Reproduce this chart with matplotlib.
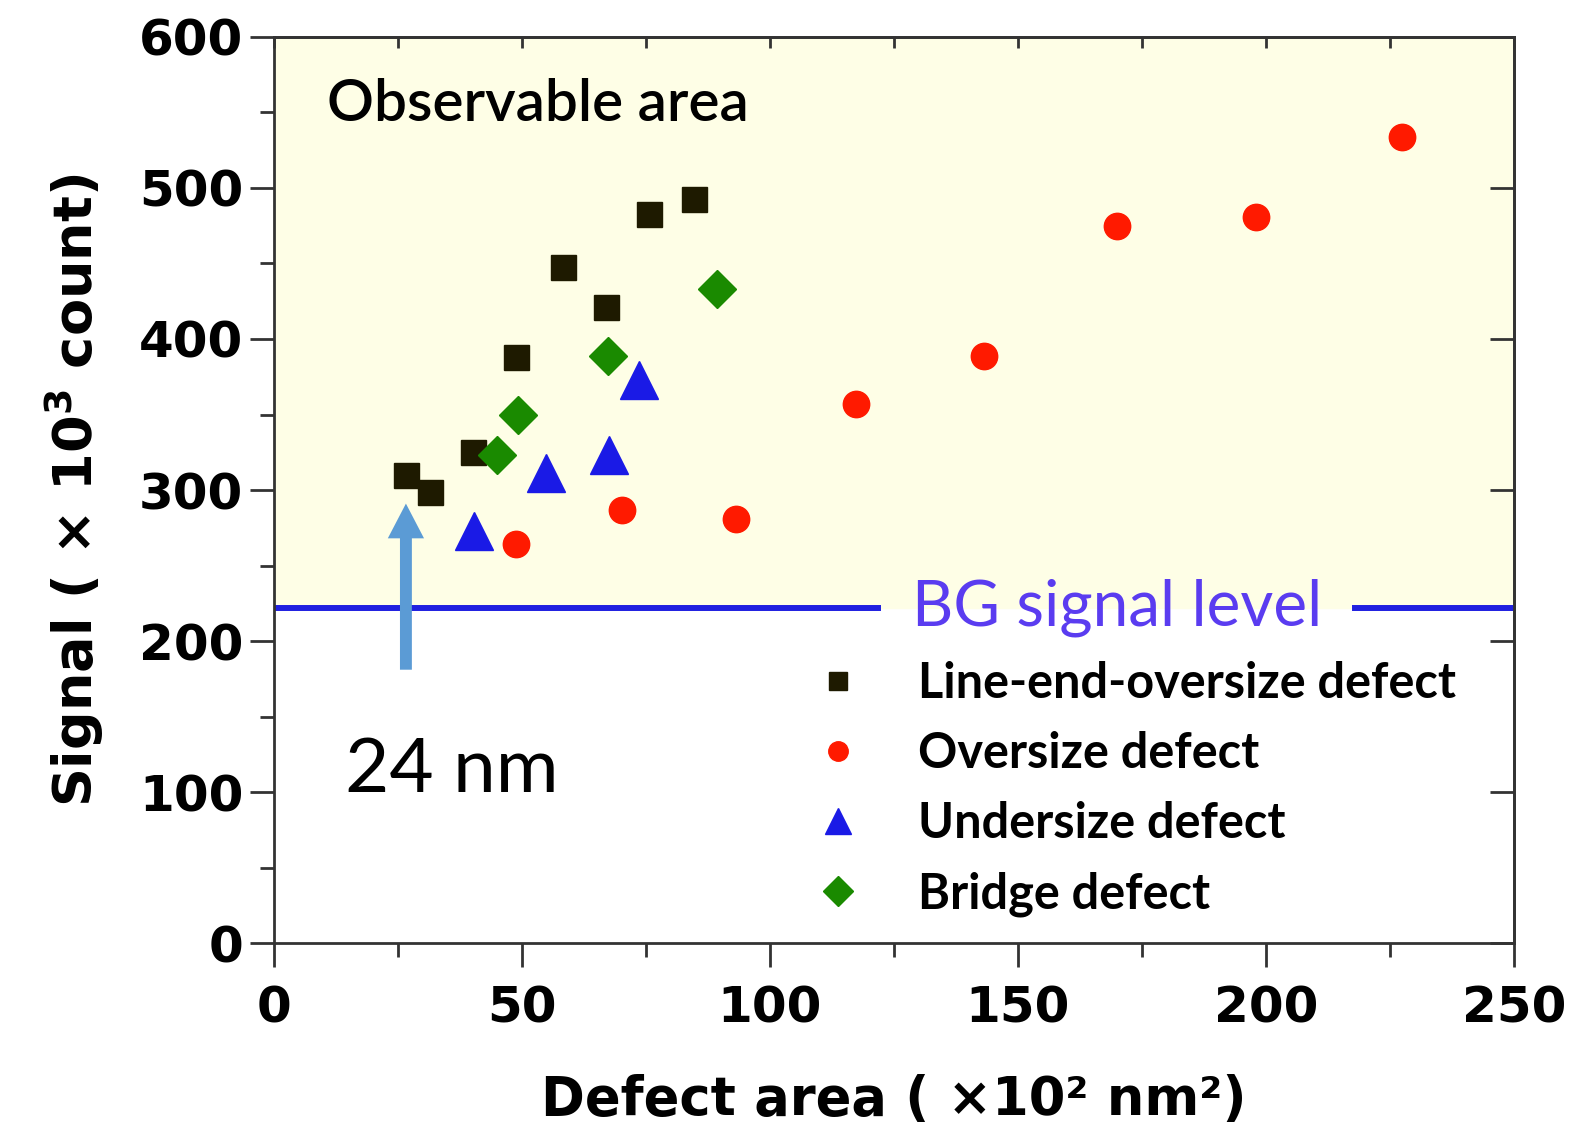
import numpy as np
import matplotlib
matplotlib.use('Agg')
import matplotlib.pyplot as plt
from matplotlib.lines import Line2D

# Data (x: defect area x10^2 nm^2, y: signal x10^3 count)
line_end_x = [26.6, 31.5, 40.1, 48.8, 58.3, 66.9, 75.6, 84.7]
line_end_y = [310, 299, 325, 388, 448, 421, 483, 493]

oversize_x = [48.8, 70.2, 93.1, 117.3, 143.1, 170.0, 198.0, 227.4]
oversize_y = [264, 287, 281, 357, 389, 475, 481, 534]

undersize_x = [40.3, 54.8, 67.5, 73.6]
undersize_y = [273, 311, 323, 373]

bridge_x = [45.0, 49.2, 67.3, 89.3]
bridge_y = [323, 350, 389, 433]

bg_level = 222
arrow_x = 26.6
arrow_y0, arrow_y1 = 181, 291

xticks = [0, 50, 100, 150, 200, 250]
yticks = [0, 100, 200, 300, 400, 500, 600]

c_black = '#1e1a00'
c_red = '#ff1a00'
c_blue = '#1a1ae6'
c_green = '#1a8a00'

fig = plt.figure(figsize=(15.71, 11.31), dpi=100)
ax = fig.add_axes([0.1744, 0.1662, 0.7893, 0.8011])

ax.set_xlim(0, 250)
ax.set_ylim(0, 600)

# observable area shading
ax.axhspan(bg_level, 600, color='#fefee6', zorder=0)

# BG line, broken where the label sits
ax.plot([0, 121.8], [bg_level, bg_level], color='#2020e0', lw=4.3, zorder=2)
ax.plot([218.0, 250], [bg_level, bg_level], color='#2020e0', lw=4.3, zorder=2)
ax.text(170.0, bg_level, 'BG signal level', color='#5a3cf0', fontsize=46,
        family='Lato', ha='center', va='center', zorder=3)

ax.plot(line_end_x, line_end_y, 's', color=c_black, ms=18, zorder=4)
ax.plot(oversize_x, oversize_y, 'o', color=c_red, ms=19, zorder=4)
ax.plot(undersize_x, undersize_y, '^', color=c_blue, ms=27, zorder=4)
ax.plot(bridge_x, bridge_y, 'D', color=c_green, ms=19, zorder=4)

ax.arrow(arrow_x, arrow_y0, 0, arrow_y1 - arrow_y0, width=2.4, head_width=7.3,
         head_length=23, length_includes_head=True, color='#5b9bd5', lw=0, zorder=3)

ax.text(0.043, 0.925, 'Observable area', transform=ax.transAxes, fontsize=42,
        family='Lato', fontweight='semibold', ha='left', va='center')
ax.text(0.057, 0.19, '24 nm', transform=ax.transAxes, fontsize=55,
        family='Lato', ha='left', va='center')

handles = [
    Line2D([], [], ls='none', marker='s', color=c_black, ms=13),
    Line2D([], [], ls='none', marker='o', color=c_red, ms=14),
    Line2D([], [], ls='none', marker='^', color=c_blue, ms=19),
    Line2D([], [], ls='none', marker='D', color=c_green, ms=15),
]
labels = ['Line-end-oversize defect', 'Oversize defect', 'Undersize defect', 'Bridge defect']
leg = ax.legend(handles, labels, loc='upper left', bbox_to_anchor=(0.40, 0.36),
                frameon=False, handlelength=1.0, handletextpad=1.15, labelspacing=0.52,
                prop={'family': 'Lato', 'weight': 'bold', 'size': 35})

# frame and ticks
for s in ax.spines.values():
    s.set_color('#333333')
    s.set_linewidth(2)
ax.set_xticks(xticks)
ax.set_yticks(yticks)
ax.set_xticks(np.arange(25, 250, 50), minor=True)
ax.set_yticks(np.arange(50, 600, 100), minor=True)
ax.tick_params(which='major', direction='out', length=17, width=2, color='#333333',
               labelsize=36, pad=5)
ax.tick_params(which='minor', direction='out', length=10, width=2, color='#333333')
ax.tick_params(axis='x', which='major', pad=13)
for lab in ax.get_xticklabels() + ax.get_yticklabels():
    lab.set_fontweight('bold')

top = ax.secondary_xaxis('top')
top.set_xticks(np.arange(0, 251, 25))
top.tick_params(direction='in', length=8, width=2, color='#333333', labeltop=False)
top.spines['top'].set_color('#333333')
top.spines['top'].set_linewidth(2)
right = ax.secondary_yaxis('right')
right.set_yticks(yticks)
right.tick_params(direction='in', length=17, width=2, color='#333333', labelright=False)
right.spines['right'].set_color('#333333')
right.spines['right'].set_linewidth(2)

ax.set_xlabel('Defect area ( ×10² nm²)', fontsize=38, fontweight='bold', labelpad=30)
ax.set_ylabel(r'Signal ( × 10$^{\mathbf{3}}$ count)', fontsize=39, fontweight='bold', labelpad=24)

fig.savefig('out.png', dpi=100)
